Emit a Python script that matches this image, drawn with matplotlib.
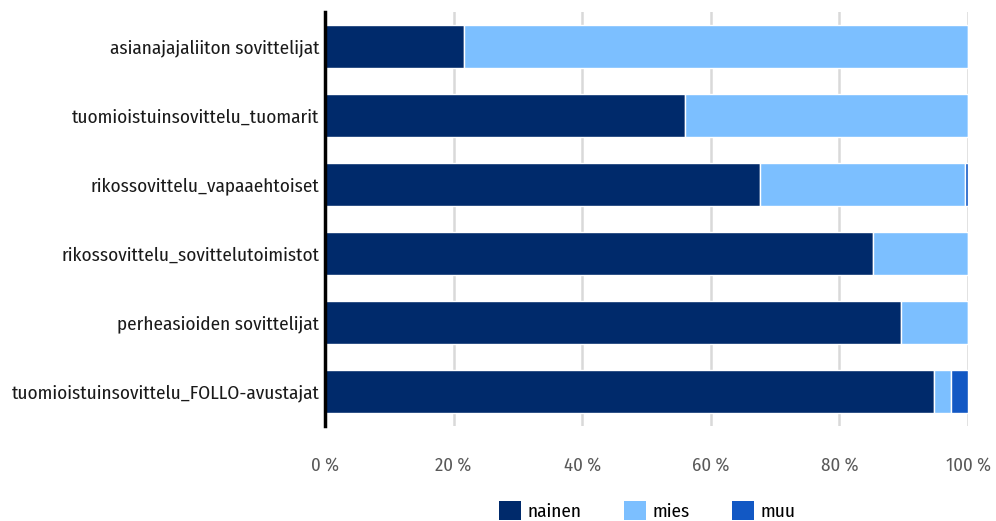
import matplotlib
matplotlib.use("Agg")
import matplotlib.pyplot as plt
import numpy as np
from matplotlib.patches import Patch

categories = ["asianajajaliiton sovittelijat",
              "tuomioistuinsovittelu_tuomarit",
              "rikossovittelu_vapaaehtoiset",
              "rikossovittelu_sovittelutoimistot",
              "perheasioiden sovittelijat",
              "tuomioistuinsovittelu_FOLLO-avustajat"]
nainen = [21.6, 56.0, 67.7, 85.2, 89.6, 94.7]
mies = [78.4, 44.0, 31.8, 14.8, 10.4, 2.7]
muu = [0.0, 0.0, 0.5, 0.0, 0.0, 2.6]
series_names = ["nainen", "mies", "muu"]
colors = ["#002a6b", "#7cbfff", "#1258c4"]
xticks = [0, 20, 40, 60, 80, 100]
xtick_labels = ["0 %", "20 %", "40 %", "60 %", "80 %", "100 %"]

plt.rcParams['font.family'] = ['Fira Sans Condensed', 'DejaVu Sans']

fig = plt.figure(figsize=(9.96, 5.21), dpi=100)
ax = fig.add_axes([325/996, 1-426/521, 643/996, 414/521])

y = np.arange(len(categories))
left = np.zeros(len(categories))
for vals, name, c in zip([nainen, mies, muu], series_names, colors):
    v = np.array(vals)
    ax.barh(y, v, left=left, height=0.63, color=c, edgecolor="white", linewidth=1, label=name, zorder=3)
    left += v

ax.set_ylim(len(categories)-0.5, -0.5)
ax.set_xlim(0, 100)
ax.set_yticks(y)
ax.set_yticklabels(categories, fontsize=13.8, color="#1a1a1a")
ax.set_xticks(xticks)
ax.set_xticklabels(xtick_labels, fontsize=13.5, color="#595959")
ax.tick_params(axis="x", length=0, pad=22)
ax.tick_params(axis="y", length=0, pad=4)
ax.grid(axis="x", color="#d9d9d9", linewidth=1.8, zorder=0)
for s in ["top", "right", "bottom"]:
    ax.spines[s].set_visible(False)
ax.spines["left"].set_color("black")
ax.spines["left"].set_linewidth(2.5)
ax.spines["left"].set_zorder(5)

handles = [Patch(facecolor=c, label=n) for c, n in zip(colors, series_names)]
fig.legend(handles=handles, loc="center", bbox_to_anchor=(647.5/996, 1-511/521), ncol=3,
           frameon=False, fontsize=13.8, handlelength=1.15, handleheight=1.15,
           columnspacing=2.2, handletextpad=0.35, borderpad=0)

fig.savefig("out.png", dpi=100)
